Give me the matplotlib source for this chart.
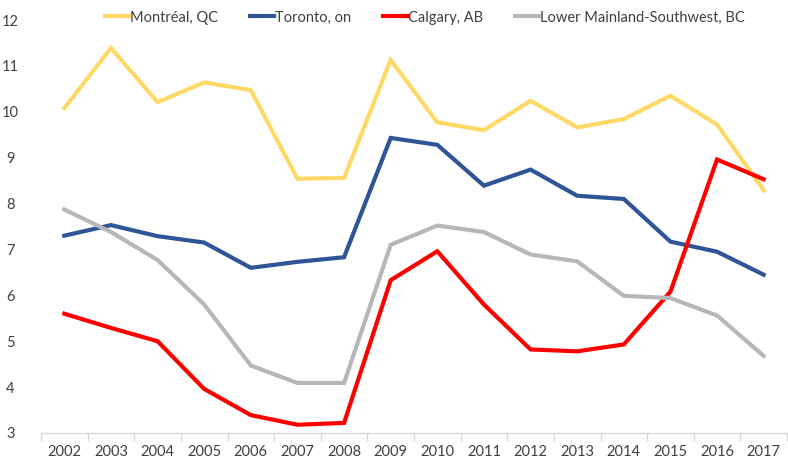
import numpy as np
import matplotlib.pyplot as plt

# values
years = [str(y) for y in range(2002, 2018)]
montreal = [10.08, 11.39, 10.21, 10.64, 10.47, 8.54, 8.56, 11.13, 9.77, 9.60,
            10.24, 9.66, 9.84, 10.35, 9.72, 8.29]
toronto = [7.30, 7.53, 7.29, 7.15, 6.60, 6.73, 6.83, 9.43, 9.28, 8.39,
           8.74, 8.17, 8.10, 7.17, 6.95, 6.45]
calgary = [5.60, 5.29, 5.00, 3.96, 3.39, 3.18, 3.22, 6.33, 6.96, 5.80,
           4.82, 4.78, 4.93, 6.08, 8.96, 8.53]
lower_mainland = [7.87, 7.38, 6.77, 5.80, 4.47, 4.09, 4.09, 7.10, 7.52, 7.38,
                  6.89, 6.74, 5.99, 5.94, 5.56, 4.68]

series = [
    ("Montréal, QC", montreal, "#FFD966"),
    ("Toronto, on", toronto, "#2F5597"),
    ("Calgary, AB", calgary, "#FF0000"),
    ("Lower Mainland-Southwest, BC", lower_mainland, "#B7B7BA"),
]

plt.rcParams['font.family'] = ['Lato', 'DejaVu Sans']

fig = plt.figure(figsize=(7.88, 4.62), dpi=100)
ax = fig.add_axes([41 / 788, 1 - 433 / 462, 746 / 788, 413 / 462])

x = np.arange(len(years))
for name, vals, color in series:
    ax.plot(x, vals, color=color, lw=3, label=name, solid_joinstyle='miter')

ax.set_xlim(-0.5, len(years) - 0.5)
ax.set_ylim(3, 12)
ax.set_yticks(range(3, 13))
ax.set_xticks(x)
ax.set_xticklabels(years)
ax.set_xticks(np.arange(-0.5, len(years)), minor=True)

ax.tick_params(axis='x', which='major', length=0, pad=9, labelsize=10.5, labelcolor='#404040')
ax.tick_params(axis='x', which='minor', length=6, color='#D9D9D9', width=1)
ax.tick_params(axis='y', length=0, pad=22, labelsize=10.5, labelcolor='#404040')
for lbl in ax.get_yticklabels():
    lbl.set_horizontalalignment('center')

for side in ['top', 'right', 'left']:
    ax.spines[side].set_visible(False)
ax.spines['bottom'].set_color('#D9D9D9')
ax.spines['bottom'].set_linewidth(1)

leg = ax.legend(loc='upper center', bbox_to_anchor=(0.515, 1.037), ncol=4,
                frameon=False, fontsize=10.5, handlelength=1.6,
                handletextpad=0.1, columnspacing=2.2, borderaxespad=0)
for t in leg.get_texts():
    t.set_color('#404040')

fig.savefig('out.png', dpi=100)
